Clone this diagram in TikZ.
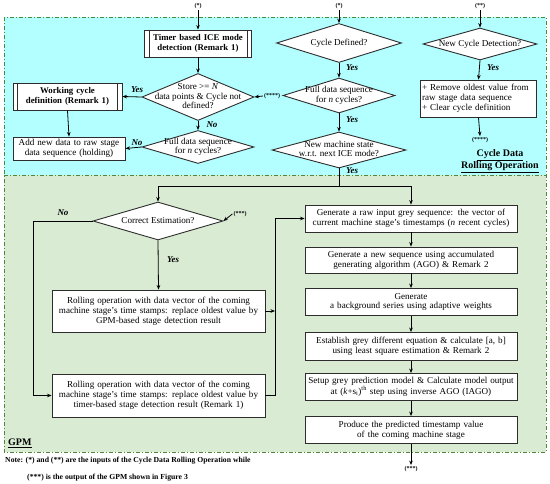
\documentclass[tikz,border=0pt]{standalone}
\usepackage{fontspec}
\setmainfont{Liberation Serif}
\usetikzlibrary{shapes.geometric,arrows.meta}
\definecolor{cyanbg}{RGB}{179,255,255}
\definecolor{greenbg}{RGB}{217,235,211}
\definecolor{framec}{RGB}{80,135,60}
\definecolor{edgec}{RGB}{45,45,45}
\newcommand{\dtx}[1]{\raisebox{-2.3pt}[0pt][0pt]{\makebox[0pt]{\begin{tabular}{@{}c@{}}#1\end{tabular}}}}
\begin{document}
\begin{tikzpicture}[x=1pt,y=-1pt,
  >={Stealth[length=4.5pt,width=3.6pt]},
  txt/.style={font=\fontsize{9.1}{9.9}\selectfont},
  box/.style={txt, draw=edgec, line width=0.9pt, fill=white, inner xsep=1.5pt, inner ysep=0pt, align=center},
  pbox/.style={box, font=\bfseries\fontsize{8.8}{10}\selectfont},
  dec/.style={txt, diamond, draw=edgec, line width=0.9pt, fill=white, inner sep=0pt},
  lbl/.style={font=\bfseries\itshape\fontsize{9}{10}\selectfont, inner sep=0pt},
  star/.style={font=\bfseries\fontsize{6}{7}\selectfont, inner sep=1pt},
  conn/.style={draw, line width=0.8pt, ->},
  line/.style={draw, line width=0.8pt},
  title/.style={font=\bfseries\fontsize{10}{12}\selectfont, align=center, inner sep=0pt},
  notetxt/.style={font=\bfseries\fontsize{7.7}{8}\selectfont, inner sep=0pt, anchor=west}
]
\useasboundingbox (0,0) rectangle (550,483);
% regions
\fill[cyanbg] (4,17) rectangle (546,175);
\fill[greenbg] (4,175) rectangle (546,452);
\draw[framec, line width=0.8pt, dash pattern=on 4pt off 2pt on 1pt off 2pt] (4,17) rectangle (546,452);
\draw[framec, line width=0.8pt, dash pattern=on 4pt off 2pt on 1pt off 2pt] (4,175) -- (546,175);

% Cycle data rolling operation
\node[star] (s1) at (198,6) {(*)};
\node[pbox, text width=104pt, minimum height=27pt] (timer) at (198,43.5) {Timer based ICE mode\\detection (Remark 1)};
\draw[edgec, line width=0.9pt] ([xshift=5pt]timer.north west) -- ([xshift=5pt]timer.south west)
  ([xshift=-5pt]timer.north east) -- ([xshift=-5pt]timer.south east);
\node[dec, minimum width=112pt, minimum height=47pt] (store) at (198,97) {\dtx{Store >= \textit{N}\\data points \& Cycle not\\defined?}};
\node[pbox, text width=106pt, minimum height=27pt] (work) at (67.5,96.5) {Working cycle\\definition (Remark 1)};
\draw[edgec, line width=0.9pt] ([xshift=5pt]work.north west) -- ([xshift=5pt]work.south west)
  ([xshift=-5pt]work.north east) -- ([xshift=-5pt]work.south east);
\node[dec, minimum width=112pt, minimum height=33pt] (full1) at (198,147) {\dtx{Full data sequence\\for \textit{n} cycles?}};
\node[box, text width=109pt, minimum height=23pt] (add) at (69,148.5) {Add new data to raw stage\\data sequence (holding)};
\node[star] (s4a) at (272,96) {(****)};

\node[star] (s2) at (339,6) {(*)};
\node[dec, minimum width=125pt, minimum height=39pt] (cyc) at (339,43) {\dtx{Cycle Defined?}};
\node[dec, minimum width=112pt, minimum height=35pt] (full2) at (339,95.5) {\dtx{Full data sequence\\for \textit{n} cycles?}};
\node[dec, minimum width=134pt, minimum height=36pt] (newm) at (339,150) {\dtx{New machine state\\w.r.t. next ICE mode?}};

\node[star] (s3) at (480,6) {(**)};
\node[dec, minimum width=114pt, minimum height=32pt] (ncd) at (480,44) {\dtx{New Cycle Detection?}};
\node[box, text width=113pt, minimum height=37pt, align=left] (rem) at (478.5,98.5) {\makebox[\hsize][s]{+ Remove oldest value from}\\raw stage data sequence\\+ Clear cycle definition};
\node[star] (s4b) at (480,140) {(****)};
\node[title] (cdro) at (500,161) {\underline{Cycle Data}\\\underline{Rolling Operation}};

% GPM
\node[dec, minimum width=130pt, minimum height=38pt] (ce) at (158,221) {\dtx{Correct Estimation?}};
\node[star] (s5) at (240,214) {(***)};
\node[box, text width=210pt, minimum height=42pt] (r1) at (158.5,311) {Rolling operation with data vector of the coming\\machine stage's time stamps: replace oldest value by\\GPM-based stage detection result};
\node[box, text width=210pt, minimum height=43pt] (r2) at (158.5,395.5) {Rolling operation with data vector of the coming\\machine stage's time stamps: replace oldest value by\\timer-based stage detection result (Remark 1)};
\node[box, text width=209pt, minimum height=27pt] (g1) at (411,218.5) {Generate a raw input grey sequence: the vector of\\current machine stage's timestamps (\textit{n} recent cycles)};
\node[box, text width=209pt, minimum height=26pt] (g2) at (411,260) {Generate a new sequence using accumulated\\generating algorithm (AGO) \& Remark 2};
\node[box, text width=209pt, minimum height=27pt] (g3) at (411,302) {Generate\\a background series using adaptive weights};
\node[box, text width=209pt, minimum height=28pt] (g4) at (411,346.5) {Establish grey different equation \& calculate [a, b]\\using least square estimation \& Remark 2};
\node[box, text width=209pt, minimum height=27pt] (g5) at (411,387) {Setup grey prediction model \& Calculate model output\\at (\textit{k}+s\textsubscript{i})\textsuperscript{th} step using inverse AGO (IAGO)};
\node[box, text width=209pt, minimum height=27pt] (g6) at (411,430) {Produce the predicted timestamp value\\of the coming machine stage};
\node[star] (s6) at (411,469) {(***)};
\node[title, anchor=west] (gpm) at (8,443) {\underline{GPM}};

\coordinate (tj) at (339,186);
\coordinate (tl) at (158,186);
\coordinate (tr) at (411,186);
\coordinate (nl) at (33,221);
\coordinate (nb) at (33,395.5);
\coordinate (vb) at (275,395.5);
\coordinate (vt) at (275,218.5);
\coordinate (vm) at (275,311);

% connectors
\path[conn] (s1) -- (timer);
\path[conn] (timer) -- (store);
\path[conn] (store.west) -- (work.east);
\path[conn] (s4a.west) -- (store.east);
\path[conn] (store.south) -- (full1.north);
\path[conn] (work.south) -- (add.north);
\path[conn] (full1.west) -- (add.east);
\path[conn] (s2) -- (cyc);
\path[conn] (cyc.south) -- (full2.north);
\path[conn] (full2.south) -- (newm.north);
\path[line] (newm.south) -- (tj);
\path[conn] (tj) -- (tl) -- (ce.north);
\path[conn] (tj) -- (tr) -- (g1.north);
\path[conn] (s3) -- (ncd);
\path[conn] (ncd.south) -- (rem.north);
\path[conn] (rem.south) -- (s4b.north);
\path[conn] (s5.west) -- (ce.east);
\path[conn] (ce.south) -- (r1.north);
\path[conn] (ce.west) -- (nl) -- (nb) -- (r2.west);
\path[conn] (r1.east) -- (vm);
\path[conn] (r2.east) -- (vb) -- (vt) -- (g1.west);
\path[conn] (g1) -- (g2);
\path[conn] (g2) -- (g3);
\path[conn] (g3) -- (g4);
\path[conn] (g4) -- (g5);
\path[conn] (g5) -- (g6);
\path[conn] (g6) -- (s6);

% labels
\node[lbl] (y1) at (137,90) {Yes};
\node[lbl] (n1) at (212,125) {No};
\node[lbl] (n2) at (137,143) {No};
\node[lbl] (y2) at (352,68) {Yes};
\node[lbl] (y3) at (352,120) {Yes};
\node[lbl] (y4) at (352,171) {Yes};
\node[lbl] (y5) at (493,68) {Yes};
\node[lbl] (n3) at (63,213) {No};
\node[lbl] (y6) at (173,260) {Yes};

% note
\node[notetxt] (note1) at (5,461) {Note: (*) and (**) are the inputs of the Cycle Data Rolling Operation while};
\node[notetxt] (note2) at (27,478) {(***) is the output of the GPM shown in Figure 3};
\end{tikzpicture}
\end{document}
